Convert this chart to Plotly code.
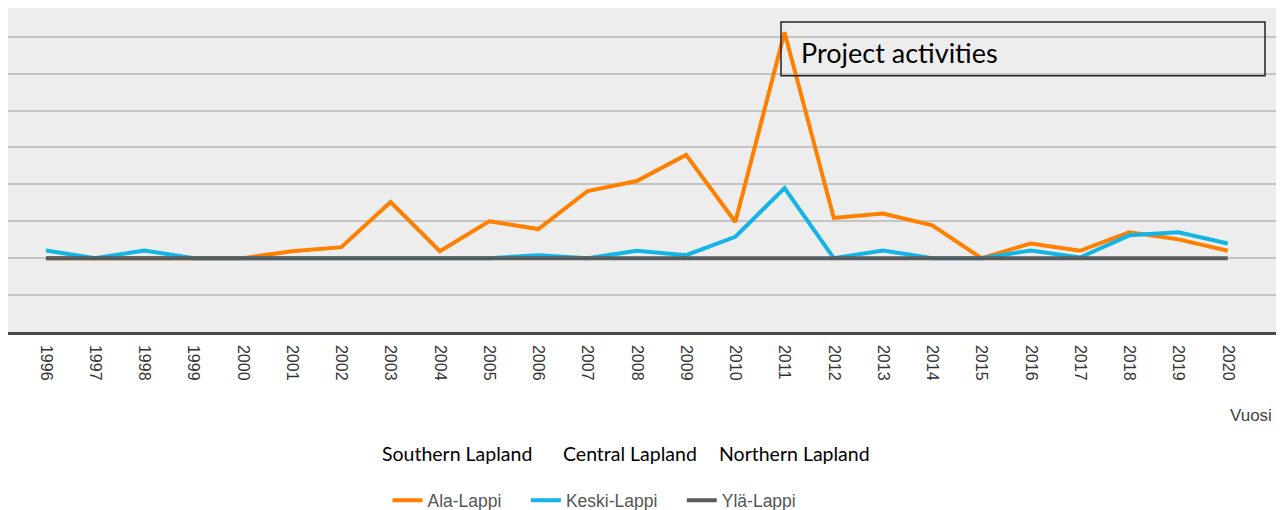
import plotly.graph_objects as go

years = [str(y) for y in range(1996, 2021)]
ala_lappi = [0, 0, 0, 0, 0, 0.19, 0.3, 1.52, 0.19, 1.0, 0.79, 1.82, 2.09, 2.8,
             0.98, 6.12, 1.09, 1.21, 0.89, 0, 0.4, 0.2, 0.7, 0.51, 0.2]
keski_lappi = [0.21, 0, 0.21, 0, 0, 0, 0, 0, 0, 0, 0.08, 0, 0.2, 0.08,
               0.58, 1.9, 0, 0.21, 0, 0, 0.21, 0.02, 0.62, 0.7, 0.4]
yla_lappi = [0] * 25

series_names = ["Ala-Lappi", "Keski-Lappi", "Ylä-Lappi"]
series_colors = ["#ff8000", "#14b4e6", "#575b5e"]
region_labels = ["Southern Lapland", "Central Lapland", "Northern Lapland"]
region_x = [457, 630, 794]

fig = go.Figure()
for name, vals, col in zip(series_names, [ala_lappi, keski_lappi, yla_lappi], series_colors):
    fig.add_trace(go.Scatter(x=years, y=vals, mode="lines", name=name + "\u00a0" * 4,
                             line=dict(color=col, width=4)))

# page body has an 8px margin: the figure is drawn 8px right/down of the window corner
OFF = 8
W, H = 1284 - OFF, 530
L, R, T, B = 8, 1277, 8, 331.7  # plot area in screenshot coordinates
pw, ph = R - L, B - T

def px(x):
    return (x - L) / pw

def py(y):
    return (B - y) / ph

fig.update_layout(
    width=W, height=H,
    margin=dict(l=L - OFF, r=W - (R - OFF), t=T - OFF, b=H - (B - OFF)),
    paper_bgcolor="white",
    plot_bgcolor="#ededed",
    showlegend=True,
    legend=dict(orientation="h", x=px(604), xanchor="center", y=py(500), yanchor="middle",
                font=dict(family="Liberation Sans, Arial", size=17.5, color="#555555"),
                itemwidth=30, tracegroupgap=0, bgcolor="rgba(0,0,0,0)"),
    xaxis=dict(type="category", range=[-0.77, 25.0], showgrid=False, zeroline=False,
               showline=True, linecolor="#4a4a4a", linewidth=2.5,
               tickangle=90, ticks="outside", ticklen=7, tickcolor="rgba(0,0,0,0)",
               tickfont=dict(family="Liberation Sans, Arial", size=16, color="#333333")),
    yaxis=dict(range=[-2, 6.78], dtick=1, showticklabels=False, showgrid=True,
               gridcolor="#c4c4c4", gridwidth=1.5, zeroline=False, showline=False),
)

fig.add_shape(type="rect", xref="paper", yref="paper",
              x0=px(781), x1=px(1265), y0=py(75.7), y1=py(22),
              line=dict(color="#222222", width=1.5), fillcolor="rgba(0,0,0,0)")
fig.add_annotation(xref="paper", yref="paper", x=px(799), y=py(52), xanchor="left",
                   yanchor="middle", text="Project activities", showarrow=False,
                   font=dict(family="Lato", size=27, color="black"))

for lab, cx in zip(region_labels, region_x):
    fig.add_annotation(xref="paper", yref="paper", x=px(cx), y=py(453), xanchor="center",
                       yanchor="middle", text=lab, showarrow=False,
                       font=dict(family="Lato", size=19.5, color="black"))

fig.add_annotation(xref="paper", yref="paper", x=px(1274), y=py(415), xanchor="right",
                   yanchor="middle", text="Vuosi", showarrow=False,
                   font=dict(family="Liberation Sans, Arial", size=17, color="#444444"))

fig.write_html("out.html")
